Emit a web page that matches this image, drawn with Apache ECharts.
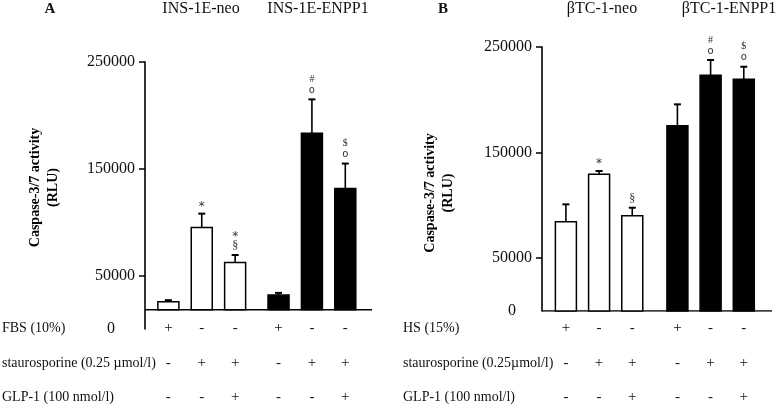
<!DOCTYPE html>
<html>
<head>
<meta charset="utf-8">
<script src="https://cdn.jsdelivr.net/npm/echarts@6/dist/echarts.min.js"></script>
<style>html,body{margin:0;padding:0;background:#fff}#c{width:776px;height:406px}</style>
</head>
<body>
<div id="c"></div>
<script>
// ---- data ----
const groupsA = ['INS-1E-neo', 'INS-1E-ENPP1'];
const groupsB = ['\u03B2TC-1-neo', '\u03B2TC-1-ENPP1'];
const valuesA = [25500, 95000, 62300, 31800, 183200, 131500];
const errorsA = [1500, 13000, 7000, 2000, 31800, 23400];
const marksA = [[], ['*'], ['\u00A7', '*'], [], ['o', '#'], ['o', '$']];
const valuesB = [84600, 129400, 90300, 175500, 223200, 219400];
const errorsB = [16400, 3200, 7500, 20200, 14500, 11900];
const marksB = [[], ['*'], ['\u00A7'], [], ['o', '#'], ['o', '$']];
const rowLabelsA = ['FBS (10%)', 'staurosporine (0.25 \u00B5mol/l)', 'GLP-1 (100 nmol/l)'];
const rowLabelsB = ['HS (15%)', 'staurosporine (0.25\u00B5mol/l)', 'GLP-1 (100 nmol/l)'];
const signsRow1 = ['+', '-', '-', '+', '-', '-'];
const signsRow2 = ['-', '+', '+', '-', '+', '+'];
const signsRow3 = ['-', '-', '+', '-', '-', '+'];
const yLabelValues = [0, 50000, 150000, 250000];
const yTickValues = [50000, 150000, 250000];
const yMax = 250000;
const baselineA = 18000;
const baselineB = 0;
const filledGroup = [false, false, false, true, true, true];
const yTitle = 'Caspase-3/7 activity\n(RLU)';

// ---- layout ----
const FONT = '"Liberation Serif", "Times New Roman", serif';
const SANS = '"DejaVu Sans", sans-serif';
function positions(gap) { return valuesA.map((_, i) => i + 1 + (i >= 3 ? gap : 0)); }
const posA = positions(0.3);
const posB = positions(0.36);
const xRangeA = [0.3, 7.1];
const xRangeB = [0.28, 7.21];

function markFont(m) {
  if (m === '*') return '12px ' + SANS;
  if (m === '\u00A7') return '12px ' + FONT;
  if (m === 'o') return '10px ' + SANS;
  return '10px ' + FONT;
}

function makeRender(marks, baseline) {
  return function (params, api) {
    const pos = api.value(0), v = api.value(1), e = api.value(2), filled = api.value(3);
    const top = api.coord([pos, v]);
    const bot = api.coord([pos, baseline]);
    const cap = api.coord([pos, v + e]);
    const w = 21;
    const x = top[0];
    const children = [
      { type: 'line', shape: { x1: x, y1: top[1], x2: x, y2: cap[1] }, style: { stroke: '#000', lineWidth: 1.6 } },
      { type: 'line', shape: { x1: x - 3.5, y1: cap[1], x2: x + 3.5, y2: cap[1] }, style: { stroke: '#000', lineWidth: 2 } },
      { type: 'rect', shape: { x: x - w / 2, y: top[1], width: w, height: bot[1] - top[1] },
        style: { fill: filled ? '#000' : '#fff', stroke: '#000', lineWidth: 1.5 } }
    ];
    (marks[params.dataIndex] || []).forEach((m, k) => {
      children.push({ type: 'text', x: x, y: cap[1] - 9 - k * 11 + (m === '*' ? 2 : 0),
        style: { text: m, fill: '#333', font: markFont(m), align: 'center', verticalAlign: 'middle' } });
    });
    return { type: 'group', children: children };
  };
}

function xLabelFormatter(pos) {
  return function (val) {
    const i = pos.findIndex(p => Math.abs(p - val) < 1e-6);
    if (i < 0) return '';
    return signsRow1[i] + '\n' + signsRow2[i] + '\n' + signsRow3[i];
  };
}

function yAxisCfg(gridIndex, zeroPad, nameGap, namePad) {
  return {
    type: 'value', gridIndex: gridIndex, min: 0, max: yMax,
    name: yTitle, nameLocation: 'middle', nameRotate: 90, nameGap: nameGap,
    nameTextStyle: { fontFamily: FONT, fontWeight: 'bold', fontSize: 14, lineHeight: 18, color: '#000', padding: namePad },
    axisLine: { show: true, lineStyle: { color: '#000', width: 1.6 } },
    axisTick: { show: true, length: 6, lineStyle: { color: '#000', width: 1.5 }, customValues: yTickValues },
    axisLabel: {
      customValues: yLabelValues, margin: 10, color: '#111', fontFamily: FONT, fontSize: 16,
      formatter: v => v === 0 ? '{z|0}' : String(v),
      rich: { z: { fontFamily: FONT, fontSize: 16, color: '#111', padding: [0, zeroPad, 0, 0] } }
    },
    splitLine: { show: false }
  };
}

function xAxisCfg(gridIndex, range, pos, margin) {
  return {
    type: 'value', gridIndex: gridIndex, min: range[0], max: range[1],
    axisLine: { show: false }, axisTick: { show: false }, splitLine: { show: false },
    axisLabel: { customValues: pos, margin: margin, fontFamily: FONT, fontSize: 15, lineHeight: 34.5,
      color: '#111', formatter: xLabelFormatter(pos) }
  };
}

function barData(pos, vals, errs) { return vals.map((v, i) => [pos[i], v, errs[i], filledGroup[i] ? 1 : 0]); }

const graphics = [];
function txt(x, y, s, size, bold, align) {
  graphics.push({ type: 'text', x: x, y: y,
    style: { text: s, font: (bold ? 'bold ' : '') + size + 'px ' + FONT, fill: '#111', align: align || 'center', verticalAlign: 'middle' } });
}
txt(50, 9, 'A', 15, true);
txt(443, 9, 'B', 15, true);
txt(201, 9, groupsA[0], 16); txt(318, 9, groupsA[1], 16);
txt(602, 9, groupsB[0], 16); txt(729, 9, groupsB[1], 16);
const rowY = [328, 363, 397];
rowLabelsA.forEach((s, i) => txt(2, rowY[i], s, 14, false, 'left'));
rowLabelsB.forEach((s, i) => txt(403, rowY[i], s, 14, false, 'left'));

const chart = echarts.init(document.getElementById('c'), null, { renderer: 'canvas' });
chart.setOption({
  animation: false,
  backgroundColor: '#fff',
  grid: [
    { left: 145, top: 62, width: 227, height: 267, containLabel: false, outerBoundsMode: 'none' },
    { left: 542, top: 47, width: 230, height: 264, containLabel: false, outerBoundsMode: 'none' }
  ],
  xAxis: [xAxisCfg(0, xRangeA, posA, -18), xAxisCfg(1, xRangeB, posB, 0)],
  yAxis: [yAxisCfg(0, 20, 83, [0, 0, 0, 16]), yAxisCfg(1, 16, 85, [0, 28, 0, 0])],
  graphic: graphics,
  series: [
    { type: 'line', xAxisIndex: 0, yAxisIndex: 0, data: [[xRangeA[0], baselineA], [xRangeA[1], baselineA]],
      symbol: 'none', lineStyle: { color: '#000', width: 1.6 }, silent: true, z: 1 },
    { type: 'line', xAxisIndex: 1, yAxisIndex: 1, data: [[xRangeB[0], baselineB], [xRangeB[1], baselineB]],
      symbol: 'none', lineStyle: { color: '#000', width: 1.6 }, silent: true, z: 1 },
    { type: 'custom', xAxisIndex: 0, yAxisIndex: 0, data: barData(posA, valuesA, errorsA),
      renderItem: makeRender(marksA, baselineA), z: 2 },
    { type: 'custom', xAxisIndex: 1, yAxisIndex: 1, data: barData(posB, valuesB, errorsB),
      renderItem: makeRender(marksB, baselineB), z: 2 }
  ]
});
</script>
</body>
</html>
